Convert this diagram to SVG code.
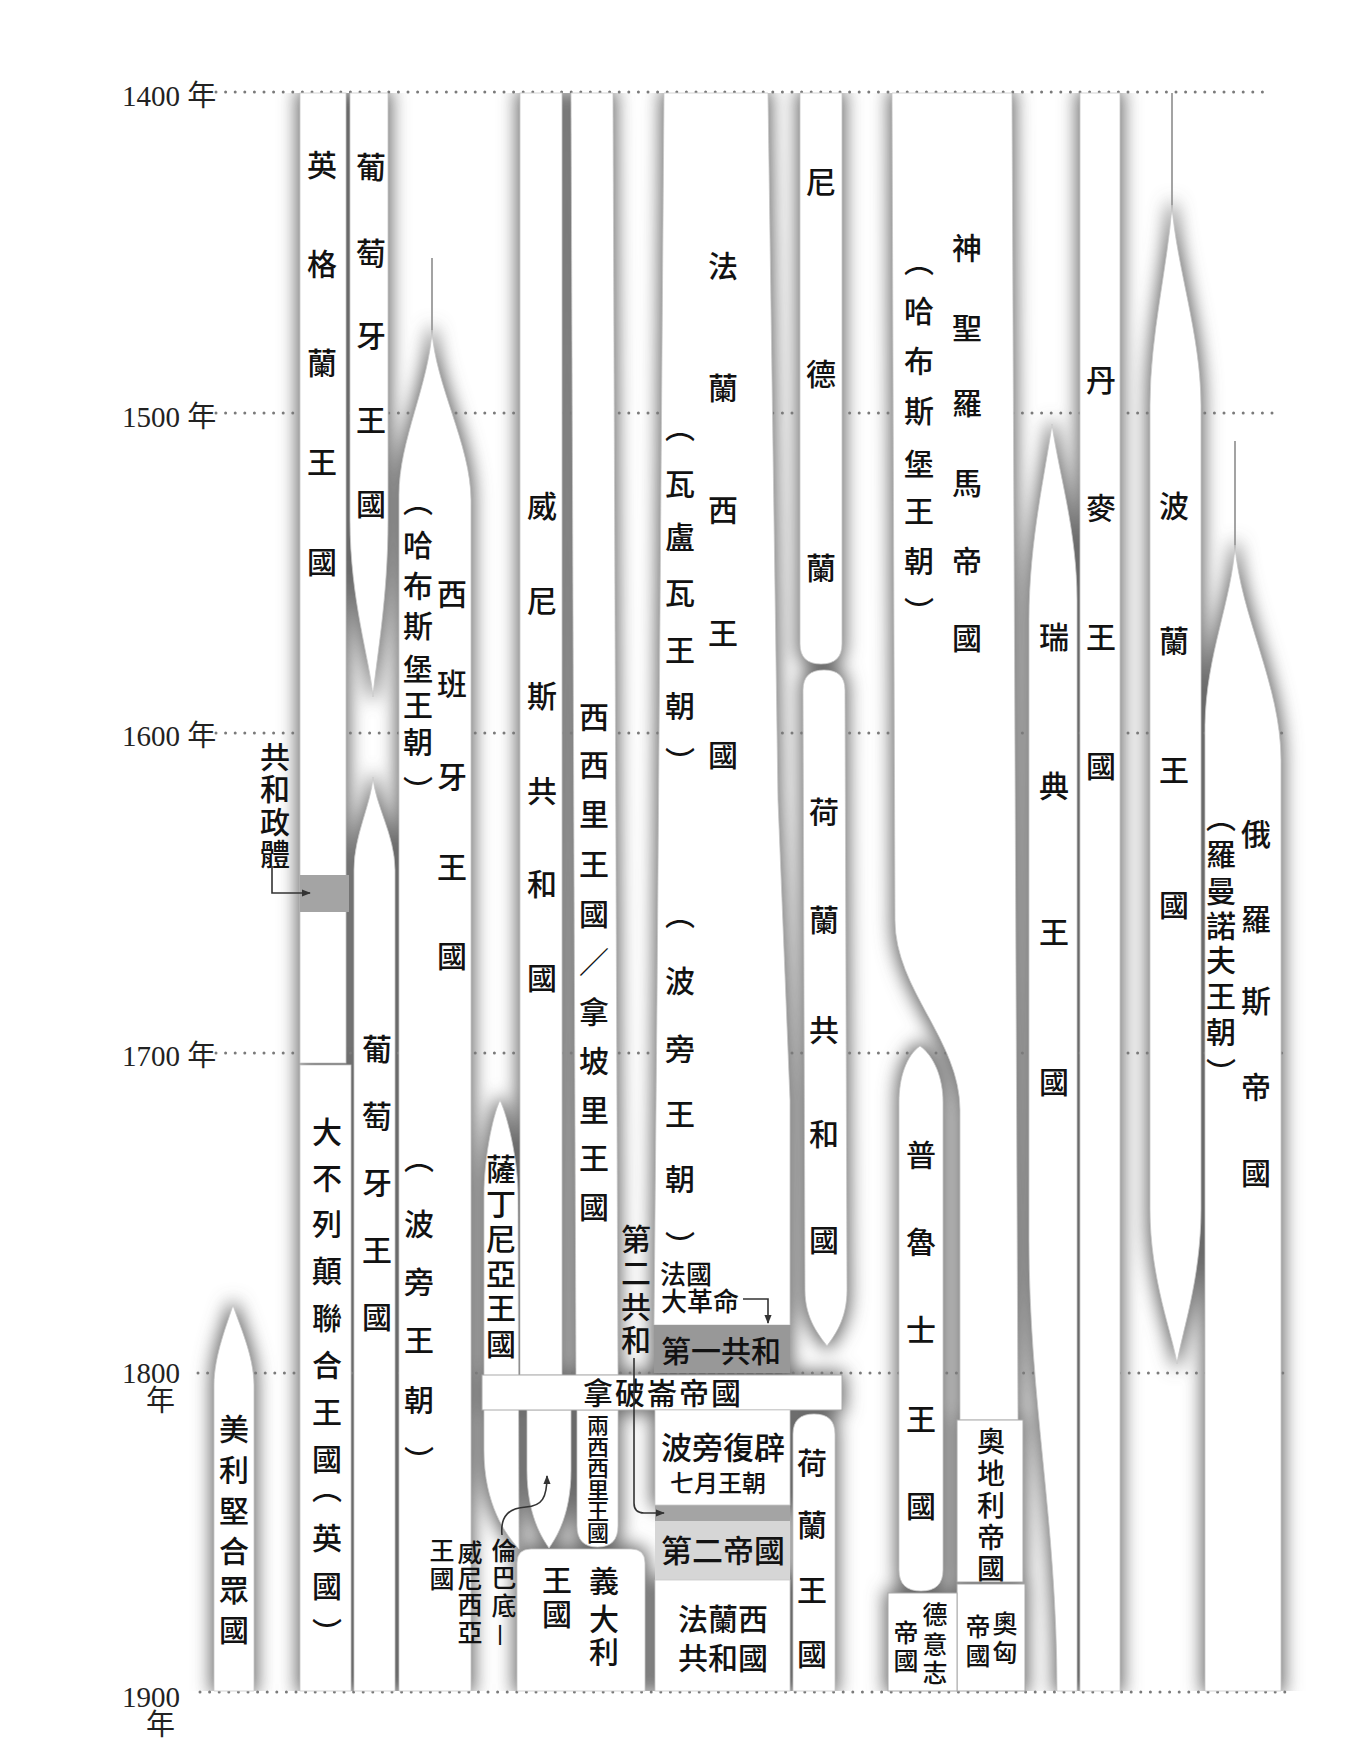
<svg xmlns="http://www.w3.org/2000/svg" width="1357" height="1764" viewBox="0 0 1357 1764">
<defs>
<style>
.band{fill:#fff;stroke:#c8c8c8;stroke-width:0.8}
.box{fill:#fff;stroke:#aaaaaa;stroke-width:1}
.dk{fill:#989898}
.md{fill:#a4a4a4}
.lt{fill:#d6d6d6}
.v{writing-mode:vertical-rl;font-family:"Noto Sans CJK TC","Noto Sans CJK SC",sans-serif;font-weight:500;font-size:30px;fill:#121212;text-anchor:middle}
.h{font-family:"Noto Sans CJK TC","Noto Sans CJK SC",sans-serif;font-weight:500;font-size:30px;fill:#121212;text-anchor:middle}
.s28{font-size:28px}.s26{font-size:26px}.s25{font-size:25px}.s24{font-size:24px}.s22{font-size:22px}
.yr{font-family:"Liberation Serif","Noto Sans CJK TC",serif;font-size:29px;fill:#222}
.dots{stroke:#7a7a7a;stroke-width:3;stroke-dasharray:0 9.6;stroke-linecap:round;fill:none}
.tip{stroke:#999;stroke-width:1.8;fill:none}
.conn{fill:none;stroke:#333;stroke-width:1.6}
</style>
<filter id="shadow" filterUnits="userSpaceOnUse" x="0" y="0" width="1357" height="1764">
<feMorphology in="SourceAlpha" operator="dilate" radius="3" result="d"/>
<feGaussianBlur in="d" stdDeviation="9" result="b"/>
<feFlood flood-color="#6a6a6a"/>
<feComposite in2="b" operator="in"/>
</filter>
<clipPath id="chart"><rect x="0" y="93" width="1357" height="1598"/></clipPath>
<marker id="arr" viewBox="0 0 10 10" refX="9" refY="5" markerWidth="9" markerHeight="9" orient="auto" markerUnits="userSpaceOnUse"><path d="M0,1 L10,5 L0,9 Z" fill="#333"/></marker>
</defs>

<rect width="1357" height="1764" fill="#fff"/>

<g id="shadows" clip-path="url(#chart)">
<g filter="url(#shadow)">
<use href="#s-usa"/><use href="#s-england"/><use href="#s-gb"/><use href="#s-portugal1"/><use href="#s-portugal2"/>
<use href="#s-spain"/><use href="#s-venice"/><use href="#s-sicily"/><use href="#s-sardinia"/><use href="#s-lv"/>
<use href="#s-2sicilies"/><use href="#s-italy"/><use href="#s-france"/><use href="#s-rep1"/><use href="#s-napoleon"/>
<use href="#s-restoration"/><use href="#s-rep3"/><use href="#s-nl"/><use href="#s-dutchrep"/><use href="#s-nlking"/>
<use href="#s-hre"/><use href="#s-prussia"/><use href="#s-austria"/><use href="#s-ah"/><use href="#s-germany"/>
<use href="#s-sweden"/><use href="#s-denmark"/><use href="#s-poland"/><use href="#s-russia"/>
</g>
</g>

<g id="year-lines">
<line class="dots" x1="216" y1="92" x2="1268" y2="92"/>
<line class="dots" x1="216" y1="413" x2="1279" y2="413"/>
<line class="dots" x1="216" y1="733" x2="1284" y2="733"/>
<line class="dots" x1="216" y1="1053" x2="1284" y2="1053"/>
<line class="dots" x1="198" y1="1373" x2="1284" y2="1373"/>
<line class="dots" x1="200" y1="1692" x2="1286" y2="1692"/>
</g>

<g id="axis">
<text class="yr" x="122" y="106">1400 年</text>
<text class="yr" x="122" y="427">1500 年</text>
<text class="yr" x="122" y="746">1600 年</text>
<text class="yr" x="122" y="1066">1700 年</text>
<text class="yr"><tspan x="122" y="1383">1800</tspan><tspan x="146" y="1411">年</tspan></text>
<text class="yr"><tspan x="122" y="1707">1900</tspan><tspan x="146" y="1735">年</tspan></text>
</g>

<g id="usa">
<path id="s-usa" class="band" d="M233,1305 C228,1322 214,1355 214,1385 L214,1691 L254,1691 L254,1385 C254,1355 238,1322 233,1305 Z"/>
<text class="v" x="234" y="1429 1470 1511 1551 1590 1630">美利堅合眾國</text>
</g>

<g id="england">
<rect id="s-england" class="band" x="300" y="93" width="46" height="970"/>
<text class="v" x="322" y="165 264 363 462 562">英格蘭王國</text>
</g>

<g id="commonwealth">
<rect id="s-commonwealth" class="md" x="300" y="875" width="49" height="37"/>
<text class="v" x="275" y="757 789 822 854">共和政體</text>
</g>

<g id="great-britain">
<rect id="s-gb" class="band" x="300" y="1065" width="51" height="626"/>
<text class="v" x="327" y="1132 1178 1224 1271 1318 1365 1412 1459 1488 1538 1586 1633">大不列顛聯合王國（英國）</text>
</g>

<g id="portugal-1">
<path id="s-portugal1" class="band" d="M350,93 L388,93 L388,520 C388,600 376,660 373,697 C370,660 350,600 350,520 Z"/>
<text class="v" x="371" y="167 253 336 420 504">葡萄牙王國</text>
</g>

<g id="portugal-2">
<path id="s-portugal2" class="band" d="M373,777 C371,805 354,835 354,870 L354,1691 L395,1691 L395,870 C395,835 375,805 373,777 Z"/>
<text class="v" x="377" y="1049 1116 1183 1250 1317">葡萄牙王國</text>
</g>

<g id="spain">
<line class="tip" x1="432" y1="258" x2="432" y2="340"/>
<path id="s-spain" class="band" d="M432,330 C429,385 399,440 399,495 L399,1691 L471,1691 L471,500 C471,445 435,385 432,330 Z"/>
<text class="v" x="452" y="594 684 777 867 956">西班牙王國</text>
<text class="v" x="418" y="501 545 586 626 669 705 742 791">（哈布斯堡王朝）</text>
<text class="v" x="419" y="1158 1224 1282 1340 1400 1461">（波旁王朝）</text>
</g>

<g id="venice">
<rect id="s-venice" class="band" x="520" y="93" width="42" height="1282"/>
<text class="v" x="542" y="506 601 696 791 884 978">威尼斯共和國</text>
</g>

<g id="sicily-naples">
<path id="s-sicily" class="band" d="M571,93 L613,93 L618,1375 L576,1375 Z"/>
<text class="v" x="594" y="717 765 814 864 914 962 1012 1061 1110 1158 1207">西西里王國／拿坡里王國</text>
</g>

<g id="sardinia">
<path id="s-sardinia" class="band" d="M500,1100 C492,1118 484,1160 484,1195 L484,1450 C484,1505 506,1535 519,1549 L518,1195 C518,1160 508,1118 500,1100 Z"/>
<text class="v" x="501" y="1169 1204 1239 1274 1308 1344">薩丁尼亞王國</text>
</g>

<g id="lombardy-venetia">
<path id="s-lv" class="band" d="M527,1410 L571,1410 L571,1470 C571,1515 556,1538 549,1548 C542,1538 527,1515 527,1470 Z"/>
<text class="v s25" x="504" y="1550 1577 1605 1635">倫巴底—</text>
<text class="v s25" x="470" y="1552 1578 1604 1632">威尼西亞</text>
<text class="v s25" x="442" y="1550 1578">王國</text>
</g>

<g id="two-sicilies">
<path id="s-2sicilies" class="band" d="M577,1410 L618,1410 L618,1526 Q618,1547 597.5,1547 Q577,1547 577,1526 Z"/>
<text class="v s22" x="598" y="1425 1447 1468 1490 1511 1533">兩西西里王國</text>
</g>

<g id="italy">
<path id="s-italy" class="band" d="M517,1691 L517,1563 Q517,1549 531,1549 L631,1549 Q645,1549 645,1563 L645,1691 Z"/>
<text class="v" x="604" y="1581 1619 1652">義大利</text>
<text class="v" x="557" y="1580 1614">王國</text>
</g>

<g id="france">
<path id="s-france" class="band" d="M664,93 L768,93 L778,800 L790,1100 L790,1325 L654,1325 L657,1000 Z"/>
<text class="v" x="723" y="266 388 510 633 755">法蘭西王國</text>
<text class="v" x="680" y="427 484 537 593 650 706 762">（瓦盧瓦王朝）</text>
<text class="v" x="680" y="914 981 1049 1114 1179 1246">（波旁王朝）</text>
</g>

<g id="first-republic">
<rect id="s-rep1" class="dk" x="654" y="1325" width="136" height="48"/>
<text class="h" x="721" y="1362">第一共和</text>
</g>

<g id="french-revolution-label">
<text class="h s26" x="686" y="1284">法國</text>
<text class="h s26" x="700" y="1311">大革命</text>
</g>

<g id="second-republic">
<rect id="s-rep2" class="md" x="655" y="1505" width="135" height="16"/>
<text class="v" x="636" y="1239 1273 1307 1340">第二共和</text>
</g>

<g id="napoleon">
<rect id="s-napoleon" class="box" x="482" y="1375" width="360" height="35"/>
<text class="h" x="663" y="1404" style="letter-spacing:2px">拿破崙帝國</text>
</g>

<g id="restoration">
<rect id="s-restoration" class="band" x="655" y="1410" width="135" height="95"/>
<text class="h" style="font-size:31px" x="723" y="1459">波旁復辟</text>
<text class="h s24" x="718" y="1492">七月王朝</text>
</g>

<g id="second-empire">
<rect id="s-empire2" class="lt" x="655" y="1521" width="135" height="59"/>
<text class="h" style="font-size:31px" x="723" y="1562">第二帝國</text>
</g>

<g id="french-republic">
<rect id="s-rep3" class="band" x="655" y="1580" width="135" height="111"/>
<text class="h" x="723" y="1630">法蘭西</text>
<text class="h" x="723" y="1669">共和國</text>
</g>

<g id="netherlands">
<path id="s-nl" class="band" d="M800,93 L842,93 L842,644 Q842,664 821,664 Q800,664 800,644 Z"/>
<text class="v" x="821" y="182 374 568">尼德蘭</text>
</g>

<g id="dutch-republic">
<path id="s-dutchrep" class="band" d="M803,690 Q803,670 824,670 Q845,670 845,690 L847,1290 C847,1320 834,1336 827,1346 C820,1336 805,1320 805,1290 Z"/>
<text class="v" x="824" y="812 920 1030 1134 1240">荷蘭共和國</text>
</g>

<g id="kingdom-netherlands">
<path id="s-nlking" class="band" d="M793,1691 L793,1434 Q793,1414 814,1414 Q835,1414 835,1434 L835,1691 Z"/>
<text class="v" x="812" y="1463 1525 1590 1654">荷蘭王國</text>
</g>

<g id="holy-roman-empire">
<path id="s-hre" class="band" d="M892,93 L1012,93 L1018,1420 L960,1420 L960,1110 C960,1040 895,990 895,920 Z"/>
<text class="v" x="967" y="248 328 403 483 561 638">神聖羅馬帝國</text>
<text class="v" x="919" y="261 311 361 411 464 511 561 612">（哈布斯堡王朝）</text>
</g>

<g id="prussia">
<path id="s-prussia" class="band" d="M920,1046 C906,1056 899,1078 899,1102 L899,1570 Q899,1591 921,1591 Q943,1591 943,1570 L943,1102 C943,1078 934,1056 920,1046 Z"/>
<text class="v" x="921" y="1155 1242 1330 1419 1506">普魯士王國</text>
</g>

<g id="austrian-empire">
<rect id="s-austria" class="box" x="957" y="1420" width="66" height="162"/>
<text class="v s28" x="991" y="1441 1473 1505 1537 1568">奧地利帝國</text>
</g>

<g id="austria-hungary">
<rect id="s-ah" class="box" x="957" y="1584" width="68" height="107"/>
<text class="v s25" x="1005" y="1623 1652">奧匈</text>
<text class="v s25" x="978" y="1626 1655">帝國</text>
</g>

<g id="german-empire">
<rect id="s-germany" class="box" x="888" y="1593" width="69" height="98"/>
<text class="v s25" x="935" y="1614 1644 1672">德意志</text>
<text class="v s25" x="906" y="1632 1660">帝國</text>
</g>

<g id="sweden">
<path id="s-sweden" class="band" d="M1052,424 C1046,470 1029,540 1029,620 L1029,1240 C1029,1400 1057,1520 1057,1691 L1077,1691 L1077,600 C1077,530 1058,470 1052,424 Z"/>
<text class="v" x="1054" y="637 786 932 1082">瑞典王國</text>
</g>

<g id="denmark">
<rect id="s-denmark" class="band" x="1080" y="93" width="40" height="1598"/>
<text class="v" x="1101" y="380 508 637 766">丹麥王國</text>
</g>

<g id="poland">
<line class="tip" x1="1172" y1="93" x2="1172" y2="215"/>
<path id="s-poland" class="band" d="M1172,205 C1168,265 1150,335 1150,405 L1150,1209 C1150,1280 1173,1335 1177,1364 C1181,1335 1201,1280 1201,1209 L1201,405 C1201,335 1176,265 1172,205 Z"/>
<text class="v" x="1174" y="506 641 770 905">波蘭王國</text>
</g>

<g id="russia">
<line class="tip" x1="1235" y1="441" x2="1235" y2="555"/>
<path id="s-russia" class="band" d="M1235,545 C1232,600 1206,655 1205,725 L1205,1691 L1281,1691 L1281,760 C1281,685 1240,615 1235,545 Z"/>
<text class="v" x="1256" y="834 919 1001 1087 1173">俄羅斯帝國</text>
<text class="v" x="1221" y="817 854 891 926 960 996 1032 1073">（羅曼諾夫王朝）</text>
</g>

<g id="connectors">
<path class="conn" d="M272,866 L272,893 L310,893" marker-end="url(#arr)"/>
<path class="conn" d="M743,1299 L768,1299 L768,1323" marker-end="url(#arr)"/>
<path class="conn" d="M634,1358 L634,1503 Q634,1513 644,1513 L664,1513" marker-end="url(#arr)"/>
<path class="conn" d="M502,1535 C500,1515 510,1508 526,1507 C542,1506 547,1498 547,1476" marker-end="url(#arr)"/>
</g>
</svg>
